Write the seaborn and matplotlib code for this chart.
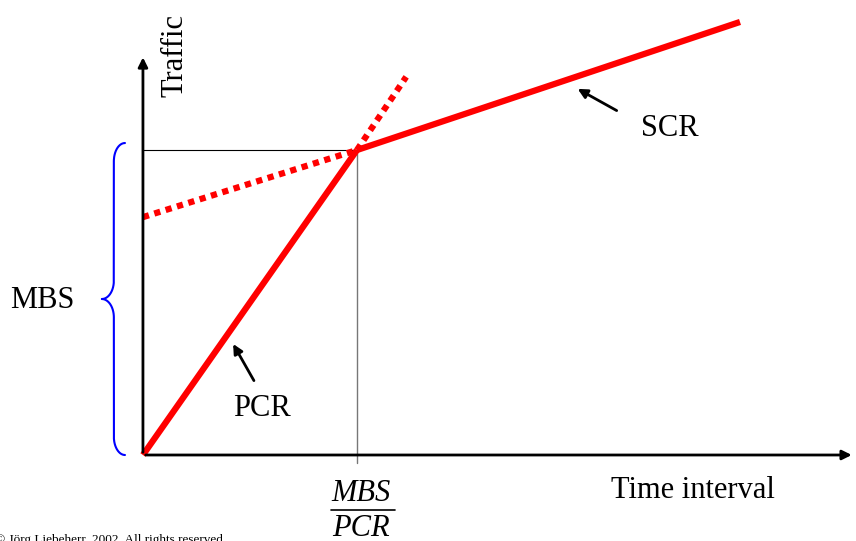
import numpy as np
import matplotlib
matplotlib.use("Agg")
import matplotlib.pyplot as plt
import seaborn as sns

# Token bucket envelope: burst point at (MBS/PCR, MBS), normalised to 1
mbs_over_pcr = 1.0
mbs = 1.0

# PCR segment (solid) and its dotted extension
pcr_x = [0.0, 1.0]
pcr_y = [0.0, 1.0]
pcr_ext_x = [1.0, 1.23]
pcr_ext_y = [1.0, 1.24]

# SCR segment (solid) and its dotted extension back to the y axis
scr_x = [1.0, 2.79]
scr_y = [1.0, 1.42]
scr_ext_x = [0.0, 1.0]
scr_ext_y = [0.78, 1.0]

sns.set_theme(style="white")
plt.rcParams['font.family'] = ['Liberation Serif', 'DejaVu Serif']
plt.rcParams['text.color'] = 'black'

fig = plt.figure(figsize=(8.56, 5.41), dpi=100)
ax = fig.add_axes([0, 0, 1, 1])
ax.set_xlim(-0.668, 3.332)
ax.set_ylim(-0.282, 1.492)
ax.axis('off')

# guide lines to the burst point
ax.plot([0, mbs_over_pcr], [mbs, mbs], color='black', lw=0.8)
ax.plot([mbs_over_pcr, mbs_over_pcr], [-0.026, mbs], color='#777777', lw=1.0)

# axes with arrow heads
ax.annotate('', xy=(0, 1.313), xytext=(0, 0),
            arrowprops=dict(arrowstyle='-|>', color='black', lw=2, mutation_scale=14))
ax.annotate('', xy=(3.325, 0), xytext=(0, 0),
            arrowprops=dict(arrowstyle='-|>', color='black', lw=2, mutation_scale=14))

red = '#ff0000'
sns.lineplot(x=pcr_x, y=pcr_y, ax=ax, color=red, lw=4.5, solid_capstyle='butt')
sns.lineplot(x=scr_x, y=scr_y, ax=ax, color=red, lw=4.5, solid_capstyle='butt')
sns.lineplot(x=pcr_ext_x, y=pcr_ext_y, ax=ax, color=red, lw=4.5,
             linestyle=(0, (1, 0.9)), dash_capstyle='butt')
sns.lineplot(x=scr_ext_x, y=scr_ext_y, ax=ax, color=red, lw=4.5,
             linestyle=(0, (1, 0.9)), dash_capstyle='butt')

# curly brace spanning 0..MBS
x_tip, x_mid, x_end = -0.192, -0.136, -0.084
yb0, yb1 = 0.0, mbs + 0.023
ymid = (yb0 + yb1) / 2
r = 0.06
a = np.linspace(0, np.pi / 2, 40)
bx = np.concatenate([
    x_end - (x_end - x_mid) * np.sin(a),
    np.full(2, x_mid),
    x_mid - (x_mid - x_tip) * (1 - np.cos(a)),
    x_mid - (x_mid - x_tip) * (1 - np.cos(a[::-1])),
    np.full(2, x_mid),
    x_end - (x_end - x_mid) * np.sin(a[::-1]),
])
by = np.concatenate([
    yb1 - r * (1 - np.cos(a)),
    [yb1 - r, ymid + r],
    ymid + r * (1 - np.sin(a)),
    ymid - r * (1 - np.sin(a[::-1])),
    [ymid - r, yb0 + r],
    yb0 + r * (1 - np.cos(a[::-1])),
])
ax.plot(bx, by, color='#0000ff', lw=1.5)

fs = 22
ax.text(-0.472, 0.508, 'MBS', fontsize=fs, ha='center', va='center')
ax.text(0.15, 1.31, 'Traffic', fontsize=fs, ha='center', va='center', rotation=90)
ax.text(2.463, 1.072, 'SCR', fontsize=fs, ha='center', va='center')
ax.text(0.556, 0.154, 'PCR', fontsize=fs, ha='center', va='center')
ax.text(2.57, -0.115, 'Time interval', fontsize=fs, ha='center', va='center')

# fraction MBS / PCR
ax.text(1.02, -0.125, 'MBS', fontsize=fs, ha='center', va='center', style='italic')
ax.plot([0.878, 1.178], [-0.18, -0.18], color='black', lw=1.2)
ax.text(1.02, -0.24, 'PCR', fontsize=fs, ha='center', va='center', style='italic')

# pointer arrows
ax.annotate('', xy=(2.02, 1.205), xytext=(2.225, 1.125),
            arrowprops=dict(arrowstyle='-|>', color='black', lw=2, mutation_scale=14))
ax.annotate('', xy=(0.415, 0.372), xytext=(0.525, 0.236),
            arrowprops=dict(arrowstyle='-|>', color='black', lw=2, mutation_scale=14))

ax.text(-0.69, -0.258, '\u00a9 J\u00f6rg Liebeherr, 2002. All rights reserved',
        fontsize=9.5, ha='left', va='top')

fig.savefig('out.png', dpi=100)
